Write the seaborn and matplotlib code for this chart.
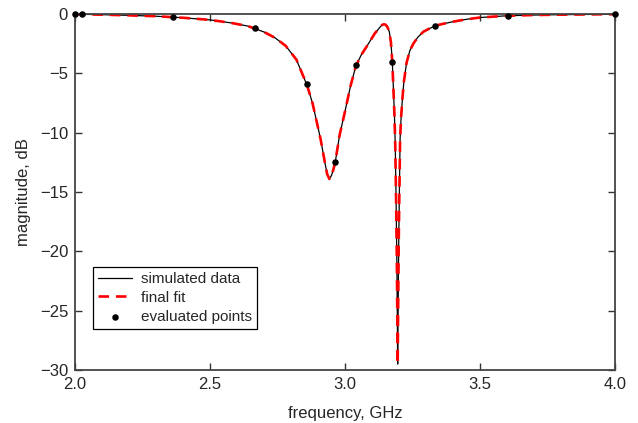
import numpy as np
import pandas as pd
import matplotlib
matplotlib.use("Agg")
import matplotlib.pyplot as plt
import seaborn as sns

# simulated response (GHz, dB)
freq_sim = [2.00, 2.10, 2.19, 2.30, 2.40, 2.50, 2.58, 2.64, 2.70, 2.74,
            2.78, 2.82, 2.86, 2.88, 2.91, 2.926, 2.934, 2.942, 2.950, 2.957,
            2.964, 2.98, 3.00, 3.02, 3.04, 3.06, 3.08, 3.11, 3.13, 3.137,
            3.144, 3.150, 3.157, 3.164, 3.170, 3.175, 3.179, 3.183, 3.186, 3.189,
            3.192, 3.195, 3.197, 3.199, 3.201, 3.204, 3.208, 3.213, 3.218, 3.228,
            3.24, 3.253, 3.27, 3.29, 3.315, 3.34, 3.40, 3.45, 3.50, 3.60,
            3.70, 3.80, 3.90, 4.00]
mag_sim = [-0.02, -0.06, -0.11, -0.19, -0.32, -0.50, -0.76, -1.02, -1.52, -2.0,
           -2.68, -3.85, -6.05, -7.55, -10.6, -12.6, -13.5, -13.9, -13.6, -13.1,
           -12.45, -10.2, -8.2, -6.1, -4.4, -3.45, -2.75, -1.65, -1.1, -0.93,
           -0.87, -0.9, -1.1, -1.5, -2.4, -4.0, -6.2, -8.5, -11.0, -15.5,
           -21.0, -29.5, -24.0, -19.0, -15.5, -10.5, -8.6, -7.0, -5.7, -4.1,
           -3.1, -2.5, -1.95, -1.5, -1.2, -0.95, -0.65, -0.45, -0.3, -0.15,
           -0.09, -0.06, -0.04, -0.02]

# evaluated points
freq_pts = [2.000, 2.027, 2.364, 2.668, 2.858, 2.964, 3.042, 3.175, 3.332, 3.605, 4.000]
mag_pts = [-0.02, -0.03, -0.25, -1.2, -5.9, -12.45, -4.3, -4.04, -1.03, -0.14, -0.02]

x_ticks = [2.0, 2.5, 3.0, 3.5, 4.0]
y_ticks = [0, -5, -10, -15, -20, -25, -30]

sim = pd.DataFrame({"freq": freq_sim, "mag": mag_sim})
pts = pd.DataFrame({"freq": freq_pts, "mag": mag_pts})

sns.set_style("ticks")
plt.rcParams["font.family"] = ["Liberation Sans", "DejaVu Sans"]

fig = plt.figure(figsize=(6.38, 4.23), dpi=100)
ax = fig.add_axes([0.1176, 0.1253, 0.8464, 0.8417])

sns.lineplot(data=sim, x="freq", y="mag", ax=ax, color="black", lw=0.9,
             estimator=None, sort=False, label="simulated data")
sns.lineplot(data=sim, x="freq", y="mag", ax=ax, color="red", lw=1.9,
             estimator=None, sort=False, label="final fit", dashes=False)
ax.lines[-1].set_linestyle((0, (4, 2.6)))
sns.scatterplot(data=pts, x="freq", y="mag", ax=ax, color="black", s=22,
                edgecolor="black", linewidth=0, zorder=5, clip_on=False,
                label="evaluated points")

ax.set_xlim(2.0, 4.0)
ax.set_ylim(-30, 0)
ax.set_xticks(x_ticks)
ax.set_xticklabels([f"{t:.1f}" for t in x_ticks])
ax.set_yticks(y_ticks)
ax.set_xlabel("frequency, GHz", fontsize=12, labelpad=10)
ax.set_ylabel("magnitude, dB", fontsize=12, labelpad=6)
ax.tick_params(direction="in", top=True, right=True, length=5, width=1.0,
               labelsize=12, color="#333333", pad=5)
for sp in ax.spines.values():
    sp.set_color("#444444")
    sp.set_linewidth(1.3)

leg = ax.legend(loc="lower left", bbox_to_anchor=(0.033, 0.115), borderaxespad=0,
                fontsize=11, frameon=True, fancybox=False, edgecolor="black",
                framealpha=1, handlelength=2.2, borderpad=0.35, labelspacing=0.32,
                handletextpad=0.6)
leg.get_frame().set_linewidth(0.9)

fig.savefig("out.png", dpi=100)
